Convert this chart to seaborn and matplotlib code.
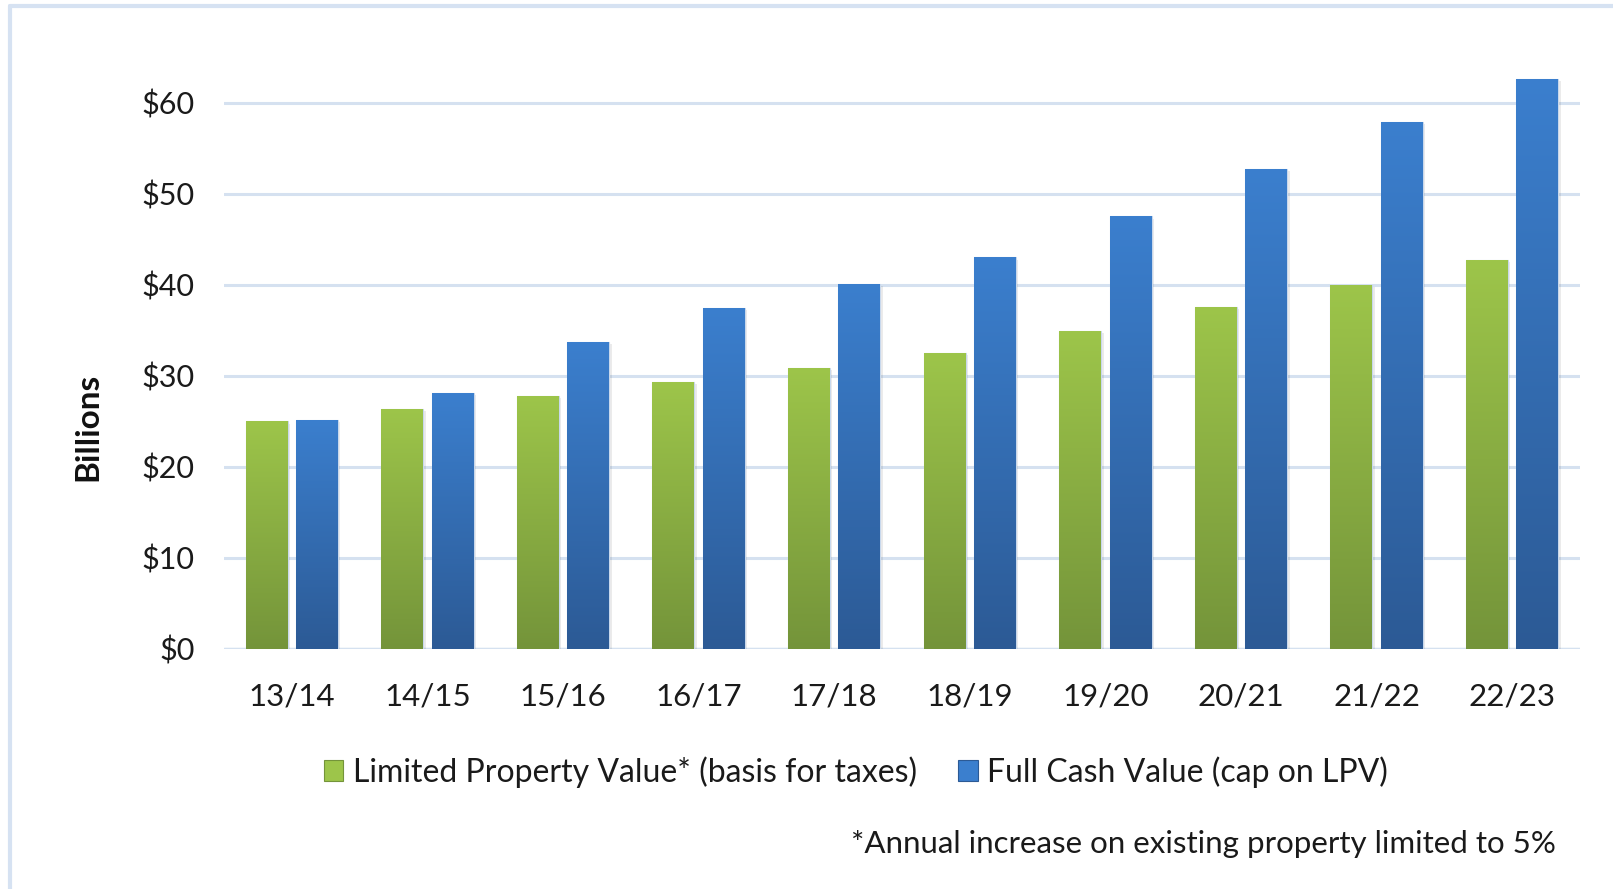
import numpy as np
import pandas as pd
import matplotlib
matplotlib.use("Agg")
import matplotlib.pyplot as plt
import seaborn as sns
from matplotlib.colors import LinearSegmentedColormap
from matplotlib.patches import Patch
from matplotlib.lines import Line2D

years = ["13/14", "14/15", "15/16", "16/17", "17/18", "18/19", "19/20", "20/21", "21/22", "22/23"]
lpv = [25.0, 26.4, 27.8, 29.3, 30.9, 32.5, 34.9, 37.6, 40.0, 42.7]
fcv = [25.2, 28.1, 33.7, 37.5, 40.1, 43.0, 47.5, 52.7, 57.9, 62.6]
series_names = ["Limited Property Value* (basis for taxes)", "Full Cash Value (cap on LPV)"]
ytick_vals = [0, 10, 20, 30, 40, 50, 60]
footnote = "*Annual increase on existing property limited to 5%"

green_top, green_bot = "#9DC54A", "#74943A"
blue_top, blue_bot = "#3B7FCE", "#2C5A95"

df = pd.DataFrame({
    "year": years * 2,
    "value": lpv + fcv,
    "series": [series_names[0]] * len(years) + [series_names[1]] * len(years),
})

sns.set_theme(style="white")
plt.rcParams["font.family"] = ["Lato", "DejaVu Sans"]

fig = plt.figure(figsize=(16.13, 8.89), dpi=100)
W, H = 1613, 889
ax = fig.add_axes([224 / W, 1 - 649 / H, (1580 - 224) / W, (649 - 48) / H])

sns.barplot(data=df, x="year", y="value", hue="series", order=years,
            hue_order=series_names, palette=[green_top, blue_top],
            width=0.745, gap=0.17, ax=ax, legend=False, zorder=3,
            saturation=1)

ax.set_xlim(-0.5, len(years) - 0.5)
ax.set_ylim(0, 66)
ax.set_yticks(ytick_vals)
ax.set_yticklabels([f"${v}" for v in ytick_vals])
ax.yaxis.grid(True, color="#D5E1F0", linewidth=2.2, zorder=0)
ax.xaxis.grid(False)
for s in ax.spines.values():
    s.set_visible(False)
ax.axhline(0, color="#D5E1F0", linewidth=2.5, zorder=2)
ax.tick_params(axis="both", length=0, colors="#1a1a1a")
ax.tick_params(axis="y", pad=21, labelsize=22)
ax.tick_params(axis="x", pad=24, labelsize=22.5)
ax.set_xlabel("")
ax.set_ylabel("Billions", fontsize=24, fontweight="bold", color="#111111")
ax.yaxis.set_label_coords(-0.090, (649 - 427) / (649 - 48))

# gradient fill for each bar
grad = np.linspace(0, 1, 256).reshape(-1, 1)
cmap_g = LinearSegmentedColormap.from_list("g", [green_bot, green_top])
cmap_b = LinearSegmentedColormap.from_list("b", [blue_bot, blue_top])
patches = list(ax.patches)
n = len(years)
for i, p in enumerate(patches):
    x0, y0 = p.get_x(), p.get_y()
    w, h = p.get_width(), p.get_height()
    cm = cmap_g if i < n else cmap_b
    # soft shadow
    ax.add_patch(plt.Rectangle((x0 + 0.006, y0), w + 0.012, h - 0.25,
                               facecolor="#000000", alpha=0.08, zorder=2.5, linewidth=0))
    im = ax.imshow(grad, extent=[x0, x0 + w, y0, y0 + h], origin="lower",
                   cmap=cm, aspect="auto", zorder=4)
    im.set_clip_path(p)
    p.set_edgecolor("#C8D8EC")
    p.set_linewidth(0.8)
    p.set_zorder(3)
ax.set_xlim(-0.5, len(years) - 0.5)
ax.set_ylim(0, 66)

handles = [Patch(facecolor=green_top, edgecolor=green_bot, linewidth=0.8),
           Patch(facecolor=blue_top, edgecolor=blue_bot, linewidth=0.8)]
fig.legend(handles, series_names, loc="center", bbox_to_anchor=(856 / W, 1 - 772 / H),
           ncol=2, frameon=False, fontsize=23, handlelength=0.6, handleheight=0.6,
           handletextpad=0.3, columnspacing=1.3, labelcolor="#1a1a1a")

fig.text(1556 / W, 1 - 844 / H, footnote, ha="right", va="center", fontsize=22.5,
         color="#1a1a1a")

# border (top and left)
fig.add_artist(Line2D([10 / W, 10 / W], [0, 1 - 6 / H], color="#D6E2F2", linewidth=3,
                      transform=fig.transFigure))
fig.add_artist(Line2D([10 / W, 1], [1 - 6 / H, 1 - 6 / H], color="#D6E2F2", linewidth=3,
                      transform=fig.transFigure))

fig.savefig("out.png", dpi=100, facecolor="white")
